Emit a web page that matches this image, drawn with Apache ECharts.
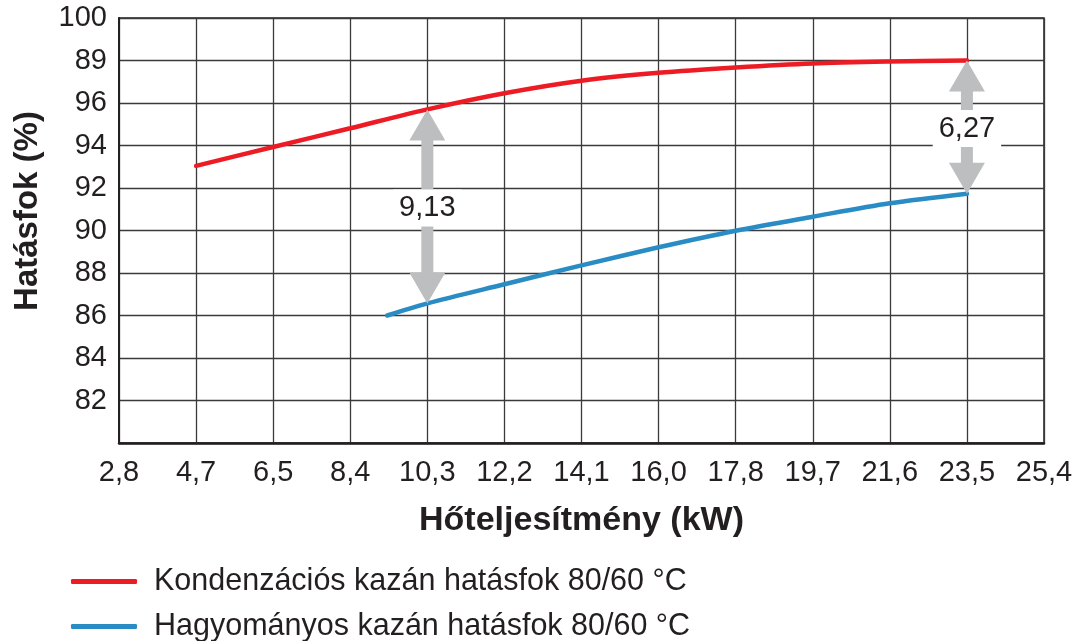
<!DOCTYPE html>
<html>
<head>
<meta charset="utf-8">
<script src="https://cdn.jsdelivr.net/npm/echarts@6/dist/echarts.min.js"></script>
<style>
html,body{margin:0;padding:0;background:#fff;}
#chart{width:1080px;height:641px;}
</style>
</head>
<body>
<div id="chart"></div>
<script>
// ---- data ----
const xTickLabels = ['2,8','4,7','6,5','8,4','10,3','12,2','14,1','16,0','17,8','19,7','21,6','23,5','25,4'];
const yTickValues = [82, 84, 86, 88, 90, 92, 94, 96, 98, 100];
const yTickLabels = ['82', '84', '86', '88', '90', '92', '94', '96', '89', '100'];
const seriesNames = ['Kondenzációs kazán hatásfok 80/60 °C', 'Hagyományos kazán hatásfok 80/60 °C'];
// x given as position index along the tick list above
const condX = [1, 2, 3, 4, 5, 6, 7, 8, 9, 10, 11];
const condY = [93.04, 93.93, 94.81, 95.70, 96.46, 97.05, 97.42, 97.67, 97.86, 97.95, 98.00];
const hagyX = [3.48, 4, 5, 6, 7, 8, 9, 10, 11];
const hagyY = [86.00, 86.57, 87.47, 88.36, 89.21, 89.99, 90.65, 91.28, 91.73];
const diffX = [4, 11];
const diffTop = [95.70, 98.00];
const diffBottom = [86.57, 91.73];
const diffLabelY = [91.06, 94.80];
const diffLabels = ['9,13', '6,27'];

const TXT = '#231f20';
const FONT = 'Liberation Sans';

const chart = echarts.init(document.getElementById('chart'), null, {renderer: 'canvas'});

const pairs = (xs, ys) => xs.map((x, i) => [x, ys[i]]);
const arrowData = diffX.map((x, i) => [x, diffTop[i], diffBottom[i], diffLabelY[i]]);

const legendBase = {
  orient: 'vertical',
  left: 66,
  itemWidth: 66, itemHeight: 5,
  icon: 'roundRect',
  textStyle: {fontSize: 30.5, color: TXT, fontFamily: FONT, lineHeight: 30, padding: [0, 0, 0, 12]}
};

const option = {
  backgroundColor: '#ffffff',
  animation: false,
  textStyle: {fontFamily: FONT},
  grid: {
    left: 119, right: 36, top: 18, bottom: 198,
    show: true, borderColor: '#231f20', borderWidth: 1.5, backgroundColor: 'transparent'
  },
  legend: [
    Object.assign({}, legendBase, {top: 561, data: [seriesNames[0]]}),
    Object.assign({}, legendBase, {top: 606, data: [seriesNames[1]]})
  ],
  xAxis: {
    type: 'value', min: 0, max: 12, interval: 1,
    name: 'Hőteljesítmény (kW)', nameLocation: 'middle', nameGap: 61,
    nameMoveOverlap: false,
    nameTextStyle: {fontSize: 34, fontWeight: 'bold', color: TXT, fontFamily: FONT},
    axisLine: {show: true, lineStyle: {color: '#231f20', width: 2.5}},
    axisTick: {show: false},
    axisLabel: {
      fontSize: 29, color: TXT, margin: 15, fontFamily: FONT,
      formatter: v => xTickLabels[Math.round(v)] ?? ''
    },
    splitLine: {show: true, lineStyle: {color: '#3a3a3a', width: 1.3}}
  },
  yAxis: {
    type: 'value', min: 80, max: 100, interval: 2,
    axisLine: {show: true, lineStyle: {color: '#231f20', width: 2}},
    axisTick: {show: false},
    axisLabel: {
      fontSize: 29, color: TXT, margin: 12, fontFamily: FONT,
      formatter: v => {
        const i = yTickValues.indexOf(Math.round(v));
        return i >= 0 ? yTickLabels[i] : '';
      }
    },
    splitLine: {show: true, lineStyle: {color: '#3a3a3a', width: 1.3}}
  },
  graphic: [{
    type: 'text', x: 28, y: 211, rotation: Math.PI / 2,
    style: {text: 'Hatásfok (%)', font: 'bold 33px ' + FONT, fill: TXT, align: 'center', verticalAlign: 'middle'}
  }],
  series: [
    {
      name: seriesNames[0], type: 'line', data: pairs(condX, condY),
      smooth: 0.3, symbol: 'none', z: 3,
      lineStyle: {color: '#ed1c24', width: 4.5, cap: 'round'},
      itemStyle: {color: '#ed1c24'}
    },
    {
      name: seriesNames[1], type: 'line', data: pairs(hagyX, hagyY),
      smooth: 0.3, symbol: 'none', z: 3,
      lineStyle: {color: '#2a8cc4', width: 4.5, cap: 'round'},
      itemStyle: {color: '#2a8cc4'}
    },
    {
      type: 'custom', z: 4, silent: true,
      data: arrowData,
      renderItem: (params, api) => {
        const x = api.value(0);
        const top = api.coord([x, api.value(1)]);
        const bot = api.coord([x, api.value(2)]);
        const lab = api.coord([x, api.value(3)]);
        const cx = top[0];
        const hw = 18, hh = 31, sw = 6;
        const col = '#bcbec0';
        return {
          type: 'group',
          children: [
            {type: 'polygon', shape: {points: [[cx, top[1]], [cx - hw, top[1] + hh], [cx + hw, top[1] + hh]]}, style: {fill: col}},
            {type: 'rect', shape: {x: cx - sw, y: top[1] + hh - 1, width: sw * 2, height: bot[1] - top[1] - 2 * hh + 2}, style: {fill: col}},
            {type: 'polygon', shape: {points: [[cx, bot[1]], [cx - hw, bot[1] - hh], [cx + hw, bot[1] - hh]]}, style: {fill: col}},
            {type: 'text', style: {
              text: diffLabels[params.dataIndex], x: cx, y: lab[1],
              align: 'center', verticalAlign: 'middle',
              font: '29px ' + FONT, fill: TXT,
              backgroundColor: '#ffffff', padding: [4, 6]
            }}
          ]
        };
      }
    }
  ]
};
chart.setOption(option);
</script>
</body>
</html>
